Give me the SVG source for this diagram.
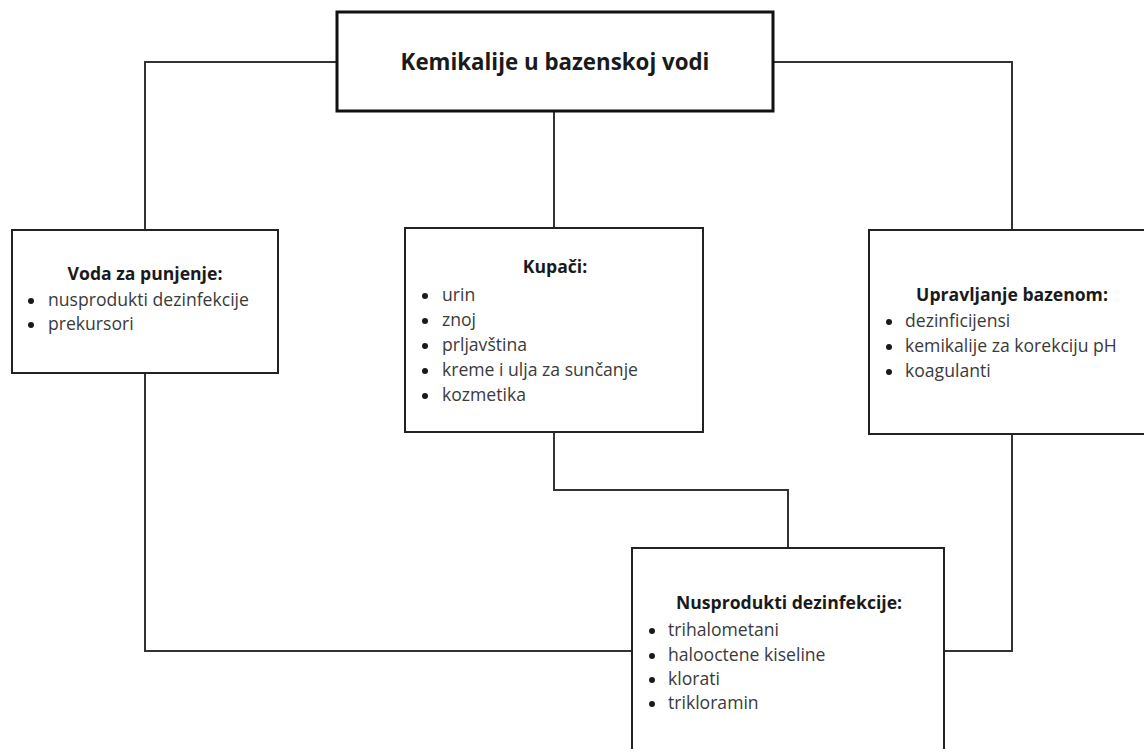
<svg xmlns="http://www.w3.org/2000/svg" width="1144" height="749" viewBox="0 0 1144 749">
<style>
.box{fill:#fff;stroke:#222;stroke-width:2}
.main{fill:#fff;stroke:#111;stroke-width:3}
.conn{fill:none;stroke:#333;stroke-width:2}
.h{font-family:"Open Sans","Liberation Sans",sans-serif;font-weight:bold;font-size:17.6px;fill:#1a1a1a;text-anchor:middle}
.t{font-family:"Open Sans","Liberation Sans",sans-serif;font-size:17.6px;fill:#3a3a3a}
.b{fill:#1a1a1a}
</style>
<rect width="1144" height="749" fill="#fff"/>
<g id="connectors">
<polyline class="conn" points="337,62 145,62 145,230"/>
<polyline class="conn" points="773,62 1012,62 1012,230"/>
<line class="conn" x1="554" y1="111" x2="554" y2="228"/>
<polyline class="conn" points="554,432 554,490 788,490 788,548"/>
<polyline class="conn" points="145,373 145,651 632,651"/>
<polyline class="conn" points="1012,434 1012,651 944,651"/>
</g>
<g id="main">
<rect class="main" x="337" y="12" width="436" height="99"/>
<text class="h" x="555" y="70" style="font-size:22.3px">Kemikalije u bazenskoj vodi</text>
</g>
<g id="voda">
<rect class="box" x="12" y="230" width="266" height="143"/>
<text class="h" x="145" y="280">Voda za punjenje:</text>
<circle class="b" cx="31" cy="301" r="3"/>
<text class="t" x="48" y="306">nusprodukti dezinfekcije</text>
<circle class="b" cx="31" cy="325" r="3"/>
<text class="t" x="48" y="330">prekursori</text>
</g>
<g id="kupaci">
<rect class="box" x="405" y="228" width="298" height="204"/>
<text class="h" x="555" y="273">Kupači:</text>
<circle class="b" cx="425" cy="296" r="3"/>
<text class="t" x="442" y="301">urin</text>
<circle class="b" cx="425" cy="321" r="3"/>
<text class="t" x="442" y="326">znoj</text>
<circle class="b" cx="425" cy="346" r="3"/>
<text class="t" x="442" y="351">prljavština</text>
<circle class="b" cx="425" cy="371" r="3"/>
<text class="t" x="442" y="376">kreme i ulja za sunčanje</text>
<circle class="b" cx="425" cy="396" r="3"/>
<text class="t" x="442" y="401">kozmetika</text>
</g>
<g id="upravljanje">
<rect class="box" x="869" y="230" width="285" height="204"/>
<text class="h" x="1012" y="301">Upravljanje bazenom:</text>
<circle class="b" cx="889" cy="322" r="3"/>
<text class="t" x="905" y="327">dezinficijensi</text>
<circle class="b" cx="889" cy="347" r="3"/>
<text class="t" x="905" y="352">kemikalije za korekciju pH</text>
<circle class="b" cx="889" cy="372" r="3"/>
<text class="t" x="905" y="377">koagulanti</text>
</g>
<g id="nusprodukti">
<rect class="box" x="632" y="548" width="312" height="210"/>
<text class="h" x="789" y="609">Nusprodukti dezinfekcije:</text>
<circle class="b" cx="652" cy="631" r="3"/>
<text class="t" x="668" y="636">trihalometani</text>
<circle class="b" cx="652" cy="656" r="3"/>
<text class="t" x="668" y="661">halooctene kiseline</text>
<circle class="b" cx="652" cy="680" r="3"/>
<text class="t" x="668" y="685">klorati</text>
<circle class="b" cx="652" cy="704" r="3"/>
<text class="t" x="668" y="709">trikloramin</text>
</g>
</svg>
